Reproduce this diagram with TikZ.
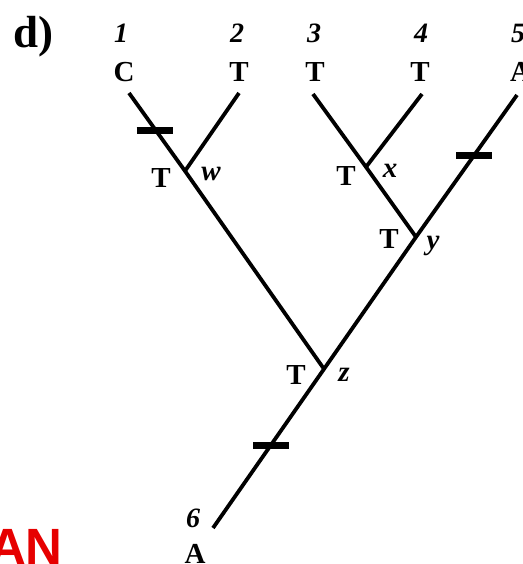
\documentclass[tikz,border=0pt]{standalone}
\usepackage{fontspec}
\setmainfont{Liberation Serif}
\newfontfamily\redsans{Liberation Sans}
\definecolor{anred}{RGB}{230,0,0}
\begin{document}
\begin{tikzpicture}[x=1pt,y=-1pt,
  branch/.style={line width=3.8pt},
  barmark/.style={line width=7pt},
  tiplab/.style={font=\fontsize{29}{29}\selectfont\bfseries, anchor=base, inner sep=0pt},
  numlab/.style={font=\fontsize{28}{28}\selectfont\bfseries\itshape, anchor=base, inner sep=0pt},
  intlab/.style={font=\fontsize{29}{29}\selectfont\bfseries, anchor=base, inner sep=0pt},
  namelab/.style={font=\fontsize{29}{29}\selectfont\bfseries\itshape, anchor=base, inner sep=0pt}]
\useasboundingbox (0,0) rectangle (522,564);
% tips and junctions
\coordinate (t1) at (129,93);
\coordinate (t2) at (239,93);
\coordinate (t3) at (313,94);
\coordinate (t4) at (422,94);
\coordinate (t5) at (517,95);
\coordinate (t6) at (213,528);
\coordinate (w) at (185,171);
\coordinate (x) at (366,167);
\coordinate (y) at (416,237);
\coordinate (z) at (324,369);
% branches
\draw[branch] (t1) -- (w) -- (z);
\draw[branch] (t2) -- (w);
\draw[branch] (t3) -- (x) -- (y);
\draw[branch] (t4) -- (x);
\draw[branch] (t5) -- (y) -- (z) -- (t6);
% bars
\coordinate (b1) at (154.5,131);
\coordinate (b5) at (474,155.5);
\coordinate (b6) at (271,445.5);
\foreach \b in {b1,b5,b6} \draw[barmark] ([xshift=-18pt]\b) -- ([xshift=18pt]\b);
% title
\node[font=\fontsize{45}{45}\selectfont\bfseries, anchor=base west, inner sep=0pt] (title) at (13,48) {d)};
% tip labels
\node[numlab] (n1) at (121,43) {1};
\node[numlab] (n2) at (237,43) {2};
\node[numlab] (n3) at (314,43) {3};
\node[numlab] (n4) at (421,43) {4};
\node[numlab, anchor=base west] (n5) at (511,43) {5};
\node[tiplab] (c1) at (124,82) {C};
\node[tiplab] (c2) at (239,82) {T};
\node[tiplab] (c3) at (315,82) {T};
\node[tiplab] (c4) at (420,82) {T};
\node[tiplab, anchor=base west] (c5) at (510,82) {A};
\node[numlab] (n6) at (193,527) {6};
\node[tiplab] (c6) at (195,563) {A};
% internal labels
\node[intlab] (sw) at (161,187) {T};
\node[namelab] (lw) at (211,180) {w};
\node[intlab] (sx) at (346,185) {T};
\node[namelab] (lx) at (390,177) {x};
\node[intlab] (sy) at (389,248) {T};
\node[namelab] (ly) at (433,249) {y};
\node[intlab] (sz) at (296,384) {T};
\node[namelab] (lz) at (344,381) {z};
% red text
\node[font=\redsans\fontsize{51}{51}\selectfont\bfseries, text=anred, anchor=base east, inner sep=0pt] (an) at (63,564) {AN};
\end{tikzpicture}
\end{document}
